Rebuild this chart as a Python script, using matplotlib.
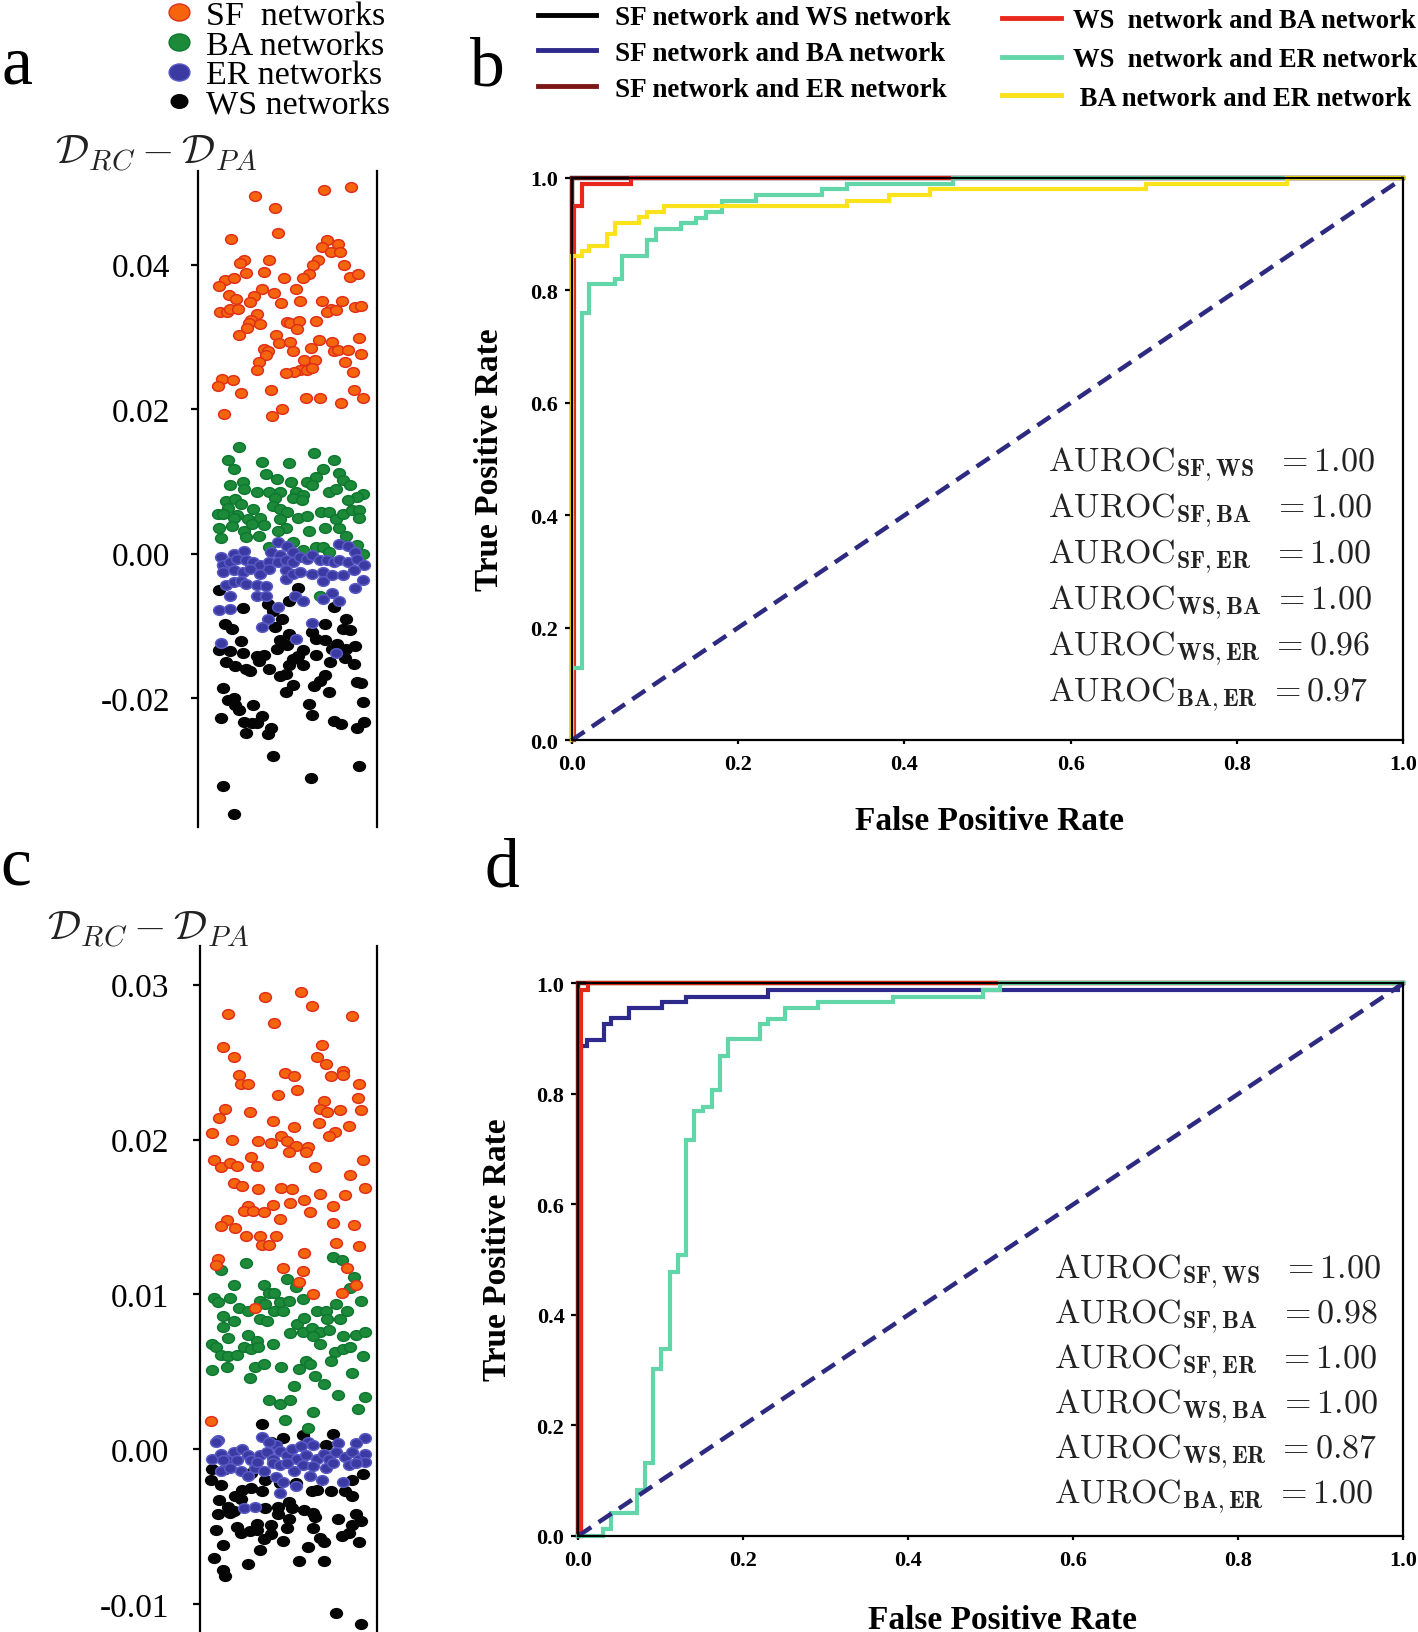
import numpy as np
import matplotlib.pyplot as plt
from matplotlib.lines import Line2D
from matplotlib.path import Path
from matplotlib.transforms import Affine2D

plt.rcParams['font.family'] = ['Liberation Serif', 'DejaVu Serif']
plt.rcParams['mathtext.fontset'] = 'cm'

# ---------------------------------------------------------------
# panel a : D_RC - D_PA  (x = jitter position 0..1, y in units of 1e-3)
# ---------------------------------------------------------------
sf_a_x = [0.319, 0.431, 0.706, 0.857, 0.446, 0.185, 0.724, 0.783, 0.696, 0.746, 0.793, 0.259, 0.237,
          0.396, 0.670, 0.644, 0.817, 0.269, 0.367, 0.150, 0.204, 0.120, 0.481, 0.622, 0.585, 0.852,
          0.894, 0.172, 0.213, 0.359, 0.311, 0.424, 0.546, 0.293, 0.465, 0.572, 0.694, 0.807, 0.741,
          0.719, 0.770, 0.880, 0.909, 0.126, 0.163, 0.181, 0.222, 0.328, 0.298, 0.287, 0.276, 0.348,
          0.496, 0.515, 0.565, 0.552, 0.659, 0.228, 0.439, 0.454, 0.515, 0.678, 0.750, 0.898, 0.370,
          0.393, 0.381, 0.530, 0.630, 0.759, 0.783, 0.841, 0.913, 0.341, 0.331, 0.593, 0.654, 0.570,
          0.607, 0.639, 0.537, 0.494, 0.824, 0.865, 0.135, 0.194, 0.111, 0.243, 0.406, 0.874, 0.602,
          0.685, 0.800, 0.924, 0.144, 0.415, 0.472]
sf_a_y = [49.5, 47.8, 50.3, 50.8, 44.4, 43.5, 43.4, 42.8, 42.4, 41.8, 41.8, 40.7, 40.2, 40.7, 40.7,
          39.9, 40.0, 38.9, 39.0, 37.9, 38.1, 37.0, 38.1, 38.7, 38.1, 38.3, 38.7, 35.8, 35.2, 36.6,
          35.7, 36.1, 36.6, 34.8, 34.7, 35.0, 35.0, 35.0, 33.9, 33.5, 33.7, 34.2, 34.3, 33.4, 33.5,
          33.8, 33.8, 33.2, 32.4, 31.9, 31.3, 31.8, 32.0, 31.9, 32.2, 31.1, 32.2, 30.2, 30.2, 29.2,
          29.3, 29.6, 29.3, 29.8, 28.3, 28.1, 27.5, 28.0, 28.5, 28.0, 28.2, 28.2, 27.7, 26.5, 25.4,
          26.8, 26.8, 25.4, 25.4, 25.7, 25.2, 25.0, 26.5, 25.2, 24.2, 24.0, 23.2, 22.3, 22.7, 22.7,
          21.5, 21.6, 20.8, 21.5, 19.3, 19.0, 20.0]

ba_a_x = [0.23, 0.65, 0.17, 0.36, 0.51, 0.76, 0.20, 0.70, 0.38, 0.44, 0.52, 0.79, 0.61, 0.66, 0.64,
          0.25, 0.18, 0.26, 0.33, 0.40, 0.46, 0.55, 0.59, 0.73, 0.77, 0.81, 0.85, 0.92, 0.89, 0.84,
          0.16, 0.21, 0.24, 0.43, 0.53, 0.58, 0.17, 0.11, 0.14, 0.22, 0.31, 0.42, 0.46, 0.50, 0.20,
          0.28, 0.35, 0.46, 0.56, 0.61, 0.69, 0.73, 0.77, 0.81, 0.86, 0.90, 0.90, 0.12, 0.19, 0.26,
          0.30, 0.37, 0.49, 0.45, 0.62, 0.71, 0.79, 0.83, 0.13, 0.27, 0.34, 0.53, 0.40, 0.59, 0.66,
          0.70, 0.73, 0.89, 0.92, 0.14, 0.68]
ba_a_y = [14.8, 14.0, 12.9, 12.7, 12.5, 12.9, 11.7, 11.7, 11.0, 10.4, 9.9, 11.2, 9.9, 10.6, 9.5,
          9.9, 9.5, 9.0, 8.6, 8.6, 8.6, 8.6, 8.1, 8.5, 8.9, 10.2, 9.5, 8.3, 7.8, 7.4,
          7.3, 7.6, 6.9, 7.7, 7.7, 7.4, 6.3, 5.5, 5.5, 5.3, 6.2, 6.6, 6.2, 5.8, 4.9,
          4.8, 4.9, 4.8, 4.9, 5.2, 5.8, 5.7, 4.8, 5.5, 6.0, 6.0, 4.9, 3.5, 3.8, 3.2,
          4.1, 3.9, 3.5, 3.2, 3.2, 3.5, 3.5, 2.5, 2.2, 2.3, 2.4, 1.6, 0.9, 0.5, 0.9,
          0.9, 0.2, 1.2, -0.1, -1.6, -5.8]

er_a_x = [0.45, 0.50, 0.13, 0.20, 0.26, 0.41, 0.46, 0.53, 0.79, 0.84, 0.88, 0.14, 0.18, 0.22, 0.27,
          0.31, 0.35, 0.40, 0.45, 0.49, 0.53, 0.57, 0.61, 0.64, 0.68, 0.72, 0.76, 0.79, 0.84, 0.89,
          0.93, 0.14, 0.20, 0.25, 0.29, 0.35, 0.40, 0.49, 0.49, 0.53, 0.57, 0.64, 0.70, 0.70, 0.75,
          0.81, 0.87, 0.92, 0.16, 0.20, 0.24, 0.27, 0.33, 0.38, 0.18, 0.33, 0.38, 0.88, 0.54, 0.59,
          0.70, 0.75, 0.79, 0.12, 0.18, 0.45, 0.39, 0.36, 0.64, 0.55, 0.13, 0.77]
er_a_y = [1.6, 1.0, -0.4, 0.0, 0.3, 0.2, -0.2, 0.2, 1.4, 1.1, 0.2, -1.6, -1.2, -0.7, -0.9,
          -1.2, -1.6, -1.2, -1.1, -0.9, -1.2, -0.5, -0.7, -0.2, -0.9, -0.9, -1.2, -0.9, -1.2, -0.7,
          -1.6, -2.5, -2.3, -2.5, -2.1, -2.8, -2.1, -2.3, -3.5, -2.8, -2.6, -2.8, -2.5, -3.8, -3.0,
          -3.0, -2.3, -3.6, -4.4, -3.9, -3.8, -4.2, -4.4, -4.5, -5.8, -5.8, -5.8, -4.7, -5.8, -6.5,
          -6.3, -5.4, -6.5, -7.8, -7.6, -7.4, -9.0, -10.2, -9.6, -11.8, -12.4, -13.8]

ws_a_x = [0.12, 0.56, 0.51, 0.39, 0.25, 0.42, 0.76, 0.47, 0.83, 0.15, 0.19, 0.43, 0.64, 0.71, 0.81,
          0.85, 0.51, 0.66, 0.71, 0.46, 0.50, 0.24, 0.12, 0.18, 0.25, 0.33, 0.37, 0.44, 0.59, 0.75,
          0.78, 0.88, 0.83, 0.16, 0.21, 0.27, 0.29, 0.40, 0.34, 0.53, 0.56, 0.51, 0.59, 0.66, 0.74,
          0.82, 0.87, 0.46, 0.49, 0.71, 0.68, 0.14, 0.20, 0.17, 0.21, 0.23, 0.31, 0.53, 0.49, 0.65,
          0.73, 0.89, 0.91, 0.62, 0.64, 0.92, 0.13, 0.26, 0.30, 0.33, 0.36, 0.41, 0.39, 0.27, 0.76,
          0.80, 0.93, 0.89, 0.42, 0.90, 0.63, 0.14, 0.20]
ws_a_y = [-5.1, -4.8, -6.5, -7.0, -7.5, -8.0, -7.4, -9.0, -9.0, -9.8, -10.5, -10.2, -10.8, -9.8, -10.5,
          -10.6, -11.1, -11.8, -11.9, -12.0, -12.7, -12.1, -13.3, -13.5, -13.8, -14.1, -14.0, -13.2, -13.4, -13.2,
          -12.5, -12.8, -13.2, -15.0, -15.5, -15.9, -16.2, -16.0, -14.8, -14.6, -14.1, -15.4, -15.4, -14.0, -15.0,
          -14.4, -15.3, -17.0, -16.6, -16.8, -17.6, -18.6, -20.0, -20.3, -21.0, -21.7, -21.0, -18.2, -19.1, -18.3,
          -19.1, -17.8, -17.9, -20.8, -22.4, -20.6, -22.8, -23.3, -23.4, -23.4, -22.5, -24.2, -25.0, -24.8, -23.2,
          -23.6, -23.3, -24.2, -28.0, -29.4, -31.0, -32.1, -36.1]

# ---------------------------------------------------------------
# panel c : D_RC - D_PA  (x = jitter position 0..1, y in units of 1e-3)
# ---------------------------------------------------------------
sf_c_x = [0.37, 0.57, 0.63, 0.16, 0.42, 0.86, 0.13, 0.69, 0.19, 0.66, 0.71, 0.22, 0.23, 0.27, 0.48,
          0.53, 0.74, 0.81, 0.81, 0.90, 0.55, 0.44, 0.89, 0.70, 0.68, 0.72, 0.79, 0.91, 0.14, 0.11,
          0.28, 0.41, 0.53, 0.67, 0.84, 0.76, 0.73, 0.07, 0.18, 0.33, 0.40, 0.46, 0.49, 0.54, 0.61,
          0.50, 0.60, 0.08, 0.12, 0.17, 0.21, 0.29, 0.32, 0.65, 0.92, 0.85, 0.19, 0.24, 0.33, 0.46,
          0.52, 0.93, 0.59, 0.68, 0.82, 0.27, 0.25, 0.30, 0.36, 0.41, 0.51, 0.62, 0.75, 0.45, 0.15,
          0.12, 0.20, 0.26, 0.34, 0.43, 0.35, 0.39, 0.75, 0.87, 0.77, 0.90, 0.59, 0.10, 0.09, 0.47,
          0.58, 0.83, 0.56, 0.64, 0.88, 0.80, 0.31, 0.06]
sf_c_y = [29.2, 29.5, 28.6, 28.1, 27.5, 28.0, 26.0, 26.1, 25.3, 25.3, 24.9, 24.2, 23.6, 23.6, 24.3,
          24.1, 24.1, 24.4, 24.2, 23.6, 23.2, 22.9, 22.7, 22.5, 22.0, 21.8, 21.9, 21.9, 22.0, 21.4,
          21.8, 21.2, 20.8, 21.1, 20.9, 20.5, 20.2, 20.4, 20.0, 19.9, 19.8, 20.2, 19.9, 19.6, 19.5,
          19.2, 19.2, 18.7, 18.2, 18.5, 18.3, 18.9, 18.3, 18.2, 18.7, 17.7, 17.2, 17.0, 16.8, 16.9,
          16.8, 16.9, 16.1, 16.5, 16.4, 15.7, 15.4, 15.4, 15.3, 15.8, 15.9, 15.3, 15.7, 14.9, 14.8,
          14.4, 14.3, 13.8, 13.8, 13.8, 13.2, 13.2, 14.6, 14.5, 13.3, 13.1, 12.7, 12.3, 11.9, 11.7,
          11.5, 11.7, 10.8, 10.0, 10.6, 10.1, 9.1, 1.8]

ba_c_x = [0.19, 0.36, 0.54, 0.85, 0.08, 0.10, 0.17, 0.22, 0.27, 0.34, 0.39, 0.42, 0.37, 0.45, 0.50,
          0.58, 0.42, 0.47, 0.13, 0.19, 0.13, 0.34, 0.38, 0.55, 0.59, 0.66, 0.71, 0.77, 0.83, 0.91,
          0.72, 0.79, 0.51, 0.58, 0.63, 0.68, 0.73, 0.81, 0.88, 0.93, 0.07, 0.09, 0.16, 0.27, 0.32,
          0.41, 0.64, 0.68, 0.12, 0.16, 0.21, 0.25, 0.29, 0.33, 0.76, 0.81, 0.85, 0.74, 0.92, 0.07,
          0.15, 0.31, 0.36, 0.46, 0.56, 0.60, 0.62, 0.86, 0.28, 0.65, 0.70, 0.53, 0.39, 0.45, 0.51,
          0.78, 0.93, 0.89, 0.48, 0.64, 0.61, 0.75, 0.80, 0.12, 0.26, 0.87, 0.49]
ba_c_y = [10.6, 10.6, 10.5, 10.4, 9.8, 9.5, 9.8, 9.1, 8.9, 9.6, 10.1, 10.1, 9.4, 9.5, 9.6,
          9.7, 8.9, 8.9, 8.6, 8.3, 7.9, 8.4, 8.3, 8.1, 8.5, 8.9, 8.9, 9.4, 8.9, 9.6,
          8.4, 8.4, 7.5, 7.6, 7.8, 7.6, 7.7, 7.3, 7.4, 7.6, 6.8, 6.6, 7.2, 7.4, 7.0,
          6.8, 7.3, 6.8, 6.1, 6.0, 6.1, 6.6, 6.5, 6.6, 6.3, 6.5, 6.6, 5.7, 6.0, 5.1,
          5.3, 5.3, 5.5, 5.3, 5.2, 5.7, 5.5, 4.9, 4.6, 4.7, 4.2, 4.1, 3.2, 2.9, 3.2,
          3.5, 3.4, 2.6, 1.9, 2.4, 1.4, 12.4, 12.2, 11.6, 12.0, 11.1, 11.0]

er_c_x = [0.10, 0.09, 0.35, 0.93, 0.88, 0.78, 0.61, 0.43, 0.39, 0.07, 0.12, 0.15, 0.19, 0.24, 0.21,
          0.27, 0.29, 0.34, 0.38, 0.41, 0.45, 0.49, 0.52, 0.55, 0.57, 0.60, 0.64, 0.66, 0.70, 0.73,
          0.77, 0.82, 0.86, 0.90, 0.93, 0.12, 0.17, 0.23, 0.27, 0.31, 0.36, 0.41, 0.45, 0.53, 0.58,
          0.64, 0.71, 0.84, 0.93, 0.43, 0.47, 0.62, 0.69, 0.81, 0.54, 0.45, 0.25, 0.31, 0.13, 0.32,
          0.49, 0.75, 0.88]
er_c_y = [0.6, 0.5, 0.8, 0.7, 0.4, 0.4, 0.5, 0.3, 0.5, -0.6, -0.3, -0.7, -0.2, 0.0, -0.7,
          -0.4, -0.7, -0.4, -0.2, -0.6, -0.1, -0.4, 0.0, -0.6, 0.2, -0.4, 0.3, -0.6, -0.3, -0.6,
          -0.2, -0.5, -0.2, -0.6, -0.3, -1.4, -1.2, -1.4, -1.7, -1.2, -1.4, -0.9, -1.0, -1.4, -1.0,
          -1.1, -1.2, -1.0, -0.8, -1.8, -2.1, -1.7, -2.0, -2.1, -2.4, -2.8, -3.8, -3.7, -0.7, -0.8,
          -0.9, -0.9, -0.9]

ws_c_x = [0.35, 0.47, 0.58, 0.75, 0.40, 0.71, 0.07, 0.06, 0.12, 0.24, 0.29, 0.35, 0.37, 0.20, 0.11,
          0.16, 0.19, 0.23, 0.37, 0.44, 0.50, 0.45, 0.63, 0.66, 0.74, 0.82, 0.86, 0.92, 0.86, 0.10,
          0.17, 0.44, 0.52, 0.59, 0.64, 0.65, 0.78, 0.88, 0.91, 0.40, 0.32, 0.50, 0.09, 0.21, 0.23,
          0.28, 0.32, 0.40, 0.49, 0.64, 0.86, 0.80, 0.84, 0.13, 0.36, 0.47, 0.68, 0.70, 0.90, 0.61,
          0.34, 0.08, 0.27, 0.56, 0.70, 0.13, 0.14, 0.77, 0.91, 0.14, 0.54, 0.29]
ws_c_y = [1.6, 0.7, 0.9, 1.0, 0.5, 0.3, -1.3, -2.0, -2.3, -2.6, -2.5, -2.7, -2.0, -3.0, -3.3,
          -3.7, -4.0, -3.2, -3.8, -3.7, -3.4, -2.2, -2.7, -2.6, -2.7, -2.7, -3.0, -1.6, -2.0, -4.2,
          -4.1, -4.2, -3.8, -3.9, -4.1, -4.4, -4.5, -4.2, -4.6, -4.9, -4.8, -4.5, -5.2, -5.0, -5.4,
          -5.3, -5.2, -5.5, -5.1, -5.1, -4.9, -5.6, -5.4, -6.2, -5.8, -5.9, -5.7, -6.0, -6.0, -6.3,
          -6.5, -7.0, -7.4, -7.2, -7.2, -7.8, -8.2, -10.6, -11.3, -1.3, -2.2, -1.5]

# ---------------------------------------------------------------
# ROC curves (corner points, drawn as post steps)
# ---------------------------------------------------------------
pair_names = ['SF network and WS network', 'SF network and BA network', 'SF network and ER network',
              'WS  network and BA network', 'WS  network and ER network', ' BA network and ER network']
pair_keys = ['SF,WS', 'SF,BA', 'SF,ER', 'WS,BA', 'WS,ER', 'BA,ER']
auroc_b = [1.00, 1.00, 1.00, 1.00, 0.96, 0.97]
auroc_d = [1.00, 0.98, 1.00, 1.00, 0.87, 1.00]

roc_b = {
    'SF,WS': ([0, 0, 1.0], [0, 1.0, 1.0]),
    'SF,BA': ([0, 0, 1.0], [0, 1.0, 1.0]),
    'SF,ER': ([0, 0, 1.0], [0, 1.0, 1.0]),
    'WS,BA': ([0, 0.003, 0.012, 0.071, 1.0], [0, 0.951, 0.990, 1.0, 1.0]),
    'WS,ER': ([0, 0, 0.012, 0.021, 0.052, 0.061, 0.091, 0.101, 0.132, 0.150, 0.161, 0.181, 0.222,
               0.301, 0.331, 0.459, 1.0],
              [0, 0.128, 0.760, 0.811, 0.820, 0.861, 0.890, 0.910, 0.920, 0.929, 0.940, 0.959, 0.970,
               0.980, 0.989, 1.0, 1.0]),
    'BA,ER': ([0, 0, 0.012, 0.021, 0.042, 0.052, 0.081, 0.091, 0.111, 0.331, 0.381, 0.431, 0.691,
               0.860, 1.0],
              [0, 0.862, 0.871, 0.879, 0.900, 0.920, 0.930, 0.940, 0.951, 0.959, 0.970, 0.980, 0.990,
               1.0, 1.0]),
}
roc_d = {
    'SF,WS': ([0, 0, 1.0], [0, 1.0, 1.0]),
    'SF,BA': ([0, 0.003, 0.011, 0.031, 0.040, 0.061, 0.101, 0.131, 0.230, 0.9935, 1.0],
              [0, 0.887, 0.898, 0.926, 0.938, 0.956, 0.967, 0.976, 0.987, 1.0, 1.0]),
    'SF,ER': ([0, 0, 1.0], [0, 1.0, 1.0]),
    'WS,BA': ([0, 0.003, 0.012, 1.0], [0, 0.987, 1.0, 1.0]),
    'WS,ER': ([0, 0.030, 0.040, 0.071, 0.081, 0.091, 0.100, 0.111, 0.121, 0.131, 0.140, 0.151, 0.162,
               0.172, 0.181, 0.220, 0.230, 0.251, 0.291, 0.381, 0.491, 0.511, 1.0],
              [0, 0.012, 0.041, 0.082, 0.131, 0.301, 0.339, 0.478, 0.508, 0.717, 0.768, 0.777, 0.807,
               0.868, 0.899, 0.926, 0.936, 0.956, 0.967, 0.976, 0.988, 1.0, 1.0]),
    'BA,ER': ([0, 0, 1.0], [0, 1.0, 1.0]),
}
roc_colors = ['#000000', '#2d2a8c', '#7d1616', '#e8281c', '#62d6a8', '#fae31c']

ticks_a = [-0.02, 0.0, 0.02, 0.04]
ticks_c = [-0.01, 0.0, 0.01, 0.02, 0.03]
roc_ticks = [0.0, 0.2, 0.4, 0.6, 0.8, 1.0]

# ================================================================
W, H = 1418, 1633
fig = plt.figure(figsize=(W / 100, H / 100), dpi=100)

ell = Path.unit_circle().transformed(Affine2D().scale(1.0, 0.82))
groups = [('WS', '#050505', '#050505'), ('BA', '#1d8a3a', '#0f7830'),
          ('SF', '#f5650e', '#e0301a'), ('ER', '#3a3aa2', '#5a5ac4')]


def strip_panel(rect, data, ylim, ticks, labelpad):
    ax = fig.add_axes(rect)
    for name, face, edge in groups:
        xs, ys = data[name]
        ax.scatter(xs, np.array(ys) * 1e-3, s=72, marker=ell, facecolor=face,
                   edgecolor=edge, linewidth=1.1, zorder=3)
    ax.set_xlim(0, 1)
    ax.set_ylim(*ylim)
    ax.set_xticks([])
    ax.set_yticks(ticks)
    ax.set_yticklabels(['%.2f' % t if t >= 0 else '-%.2f' % abs(t) for t in ticks])
    for s in ['top', 'bottom']:
        ax.spines[s].set_visible(False)
    for s in ['left', 'right']:
        ax.spines[s].set_linewidth(1.6)
    ax.tick_params(axis='y', direction='out', length=5, width=1.6, labelsize=24, pad=labelpad)
    return ax


ax_a = strip_panel([197.8 / W, 1 - 827.7 / H, 179.1 / W, 655.9 / H],
                   {'SF': (sf_a_x, sf_a_y), 'BA': (ba_a_x, ba_a_y),
                    'ER': (er_a_x, er_a_y), 'WS': (ws_a_x, ws_a_y)},
                   (-0.0378, 0.0530), ticks_a, 15)
ax_c = strip_panel([200.0 / W, 0.0, 177.0 / W, (H - 947) / H],
                   {'SF': (sf_c_x, sf_c_y), 'BA': (ba_c_x, ba_c_y),
                    'ER': (er_c_x, er_c_y), 'WS': (ws_c_x, ws_c_y)},
                   (-0.0118, 0.0325), ticks_c, 17)

ylab = r'$\mathcal{D}_{RC}-\mathcal{D}_{PA}$'
fig.text(156 / W, 1 - 154 / H, ylab, fontsize=30, ha='center', va='center', color='#222222')
fig.text(148 / W, 1 - 930 / H, ylab, fontsize=30, ha='center', va='center', color='#222222')

# legend of panel a
leg_handles = []
leg_labels = ['SF  networks', 'BA networks', 'ER networks', 'WS networks']
for name, ms in [('SF', 15), ('BA', 15), ('ER', 15), ('WS', 12)]:
    face, edge = [(f, e) for n, f, e in groups if n == name][0]
    leg_handles.append(Line2D([], [], ls='none', marker=ell, ms=ms, mfc=face, mec=edge, mew=1.0))
fig.legend(leg_handles, leg_labels, loc='upper left', bbox_to_anchor=(163 / W, 1 - 1 / H),
           frameon=False, fontsize=24.5, handlelength=0.95, handletextpad=0.3,
           labelspacing=-0.03, borderpad=0, borderaxespad=0)


# ---------------------------------------------------------------
def roc_panel(rect, roc, auroc, order, txt_x, txt_y0):
    ax = fig.add_axes(rect)
    for i in order:
        fpr, tpr = roc[pair_keys[i]]
        ax.step(fpr, tpr, where='post', color=roc_colors[i], lw=3.0, clip_on=False,
                solid_joinstyle='miter')
    ax.plot([0, 1], [0, 1], color='#2d2a80', lw=3.2, ls=(0, (3.5, 2.0)), clip_on=False)
    ax.set_xlim(0, 1)
    ax.set_ylim(0, 1)
    ax.set_xticks(roc_ticks)
    ax.set_yticks(roc_ticks)
    ax.set_xticklabels(['%.1f' % t for t in roc_ticks])
    ax.set_yticklabels(['%.1f' % t for t in roc_ticks])
    for lab in ax.get_xticklabels() + ax.get_yticklabels():
        lab.set_fontweight('bold')
    ax.tick_params(axis='both', direction='out', length=5, width=1.6, labelsize=16)
    ax.tick_params(axis='y', pad=5)
    ax.tick_params(axis='x', pad=7, length=3)
    for s in ax.spines.values():
        s.set_linewidth(1.6)
    ax.set_ylabel('True Positive Rate', fontsize=24, fontweight='bold')
    ax.set_xlabel('False Positive Rate', fontsize=24, fontweight='bold')
    for i, key in enumerate(pair_keys):
        gap = r'\ \ ' if key.startswith('SF') else r'\ '
        s = r'$\mathrm{AUROC}_{\mathbf{%s}}%s= %.2f$' % (key, gap, auroc[i])
        ax.text(txt_x, txt_y0 - i * 0.0815, s, fontsize=24.5, ha='left', va='center', color='#222222')
    return ax


ax_b = roc_panel([571.6 / W, 1 - 741.3 / H, 831.8 / W, 562.3 / H], roc_b, auroc_b,
                 [0, 1, 2, 3, 4, 5], 0.573, 0.491)
ax_b.yaxis.set_label_coords(-0.080, 0.5)
ax_b.xaxis.set_label_coords(0.503, -0.115)

ax_d = roc_panel([578.3 / W, 1 - 1536.8 / H, 825.1 / W, 552.5 / H], roc_d, auroc_d,
                 [5, 0, 1, 2, 3, 4], 0.576, 0.48)
ax_d.yaxis.set_label_coords(-0.079, 0.52)
ax_d.xaxis.set_label_coords(0.514, -0.123)

# shared legend of the ROC panels
lines = [Line2D([], [], color=c, lw=3.5) for c in roc_colors]
fig.legend(lines[:3], pair_names[:3], loc='upper left', bbox_to_anchor=(538 / W, 1 - 6 / H),
           frameon=False, prop={'weight': 'bold', 'size': 19.5}, handlelength=2.15,
           handletextpad=0.7, labelspacing=0.4, borderpad=0, borderaxespad=0)
fig.legend(lines[3:], pair_names[3:], loc='upper left', bbox_to_anchor=(1002 / W, 1 - 9 / H),
           frameon=False, prop={'weight': 'bold', 'size': 19.2}, handlelength=2.2,
           handletextpad=0.45, labelspacing=0.52, borderpad=0, borderaxespad=0)

# panel letters
for letter, x, y in [('a', 2, 83), ('b', 470, 85), ('c', 0, 885), ('d', 484, 887)]:
    fig.text(x / W, 1 - y / H, letter, fontsize=50, ha='left', va='baseline')

fig.savefig('out.png', dpi=100)
